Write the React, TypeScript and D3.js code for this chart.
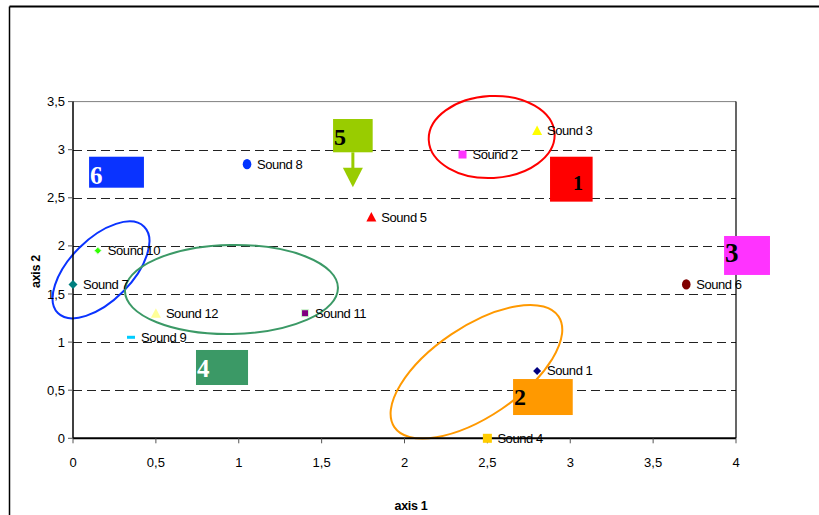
import React from "react";
import * as d3 from "d3";

const soundNames = ["Sound 1","Sound 2","Sound 3","Sound 4","Sound 5","Sound 6","Sound 7","Sound 8","Sound 9","Sound 10","Sound 11","Sound 12"];
const axis1Values = [2.8, 2.35, 2.8, 2.5, 1.8, 3.7, 0.0, 1.05, 0.35, 0.15, 1.4, 0.5];
const axis2Values = [0.7, 2.95, 3.2, 0.0, 2.3, 1.6, 1.6, 2.85, 1.05, 1.95, 1.3, 1.3];
const markerShapes = ["diamond","square","triangle","square","triangle","circle","diamond","circle","dash","diamond","square","triangle"];
const markerColors = ["#000080","#FF33FF","#FFFF00","#FFCC00","#FF0000","#800000","#008080","#0033FF","#00CCFF","#33FF00","#800080","#FFFF99"];

const xTicks = [0, 0.5, 1, 1.5, 2, 2.5, 3, 3.5, 4];
const yTicks = [0, 0.5, 1, 1.5, 2, 2.5, 3, 3.5];

// annotation groups (data units)
const groupLabels = ["6", "5", "1", "3", "4", "2"];
const groupColors = ["#0A33FF", "#99CC00", "#FF0000", "#FF33FF", "#3B9966", "#FF9900"];
const groupTextColors = ["#FFFFFF", "#000000", "#000000", "#000000", "#FFFFFF", "#000000"];
const groupX0 = [0.097, 1.569, 2.878, 3.928, 0.742, 2.655];
const groupX1 = [0.428, 1.808, 3.135, 4.205, 1.056, 3.015];
const groupY0 = [2.605, 2.973, 2.46, 1.698, 0.554, 0.242];
const groupY1 = [2.927, 3.319, 2.927, 2.103, 0.918, 0.616];
const groupFont = [25, 24, 20, 27, 25, 24];

const ellipseColors = ["#FF0000", "#0A33FF", "#3B9966", "#FF9900"];
const ellipseCX = [2.526, 0.169, 0.956, 2.434];
const ellipseCY = [3.132, 1.751, 1.547, 0.692];
const ellipseRX = [63, 61, 106.5, 99];
const ellipseRY = [41, 31, 44.5, 45];
const ellipseRot = [-3, -45, -1, -34];

const W = 819, H = 515;
const left = 73, right = 736, top = 101.6, bottom = 438.3;

export default function App() {
  const x = d3.scaleLinear().domain([0, 4]).range([left, right]);
  const y = d3.scaleLinear().domain([0, 3.5]).range([bottom, top]);
  const font = "'Liberation Sans', Arial, sans-serif";
  const serif = "'Liberation Serif', 'Times New Roman', serif";

  const marker = (i: number) => {
    const cx = x(axis1Values[i]);
    const cy = y(axis2Values[i]);
    const c = markerColors[i];
    const s = markerShapes[i];
    if (s === "diamond") {
      const r = i === 9 ? 3.5 : i === 6 ? 4.5 : 4;
      return <path d={`M${cx},${cy - r}L${cx + r},${cy}L${cx},${cy + r}L${cx - r},${cy}Z`} fill={c} stroke={i === 9 ? "#CCFFCC" : "none"} strokeWidth={1} />;
    }
    if (s === "square") {
      const r = i === 3 ? 4.5 : i === 10 ? 3.5 : 4;
      return <rect x={cx - r} y={cy - r} width={2 * r} height={2 * r} fill={c} stroke={i === 10 ? "#CCFFCC" : "none"} strokeWidth={1} />;
    }
    if (s === "triangle") {
      const r = 5;
      return <path d={`M${cx},${cy - r}L${cx + r},${cy + r - 0.5}L${cx - r},${cy + r - 0.5}Z`} fill={c} />;
    }
    if (s === "circle") {
      return <ellipse cx={cx} cy={cy} rx={4.3} ry={5.2} fill={c} />;
    }
    return <rect x={cx - 4} y={cy - 1.5} width={8} height={3} fill={c} />;
  };

  return (
    <svg width={W} height={H} style={{ position: "absolute", left: 0, top: 0, background: "#fff" }}>
      {/* outer frame */}
      <line x1={9.5} y1={6.5} x2={W} y2={6.5} stroke="#000" strokeWidth={2} />
      <line x1={9.5} y1={6.5} x2={9.5} y2={H} stroke="#000" strokeWidth={1.5} />

      {/* gridlines */}
      {yTicks.filter(t => t > 0 && t < 3.5).map(t => (
        <line key={"g" + t} x1={left} x2={right} y1={Math.round(y(t)) + 0.5} y2={Math.round(y(t)) + 0.5} stroke="#222" strokeWidth={1} strokeDasharray="9,5" />
      ))}
      <line x1={left} x2={right} y1={top} y2={top} stroke="#808080" strokeWidth={1} />
      <line x1={right} x2={right} y1={top} y2={bottom} stroke="#000" strokeWidth={1.2} />

      {/* ellipses */}
      {ellipseColors.map((c, i) => (
        <ellipse key={"e" + i} cx={0} cy={0} rx={ellipseRX[i]} ry={ellipseRY[i]} fill="none" stroke={c} strokeWidth={2}
          transform={`translate(${x(ellipseCX[i])},${y(ellipseCY[i])}) rotate(${ellipseRot[i]})`} />
      ))}

      {/* axes */}
      <line x1={left} x2={left} y1={top} y2={bottom} stroke="#000" strokeWidth={1.5} />
      <line x1={left} x2={right} y1={bottom} y2={bottom} stroke="#000" strokeWidth={2} />
      {yTicks.map(t => (
        <g key={"yt" + t}>
          <line x1={left - 5} x2={left} y1={y(t)} y2={y(t)} stroke="#555" strokeWidth={1} />
          <text x={65} y={y(t) + 4.5} textAnchor="end" fontFamily={font} fontSize={13} fill="#000">{String(t).replace(".", ",")}</text>
        </g>
      ))}
      {xTicks.map(t => (
        <g key={"xt" + t}>
          <line x1={x(t)} x2={x(t)} y1={bottom} y2={bottom + 5} stroke="#555" strokeWidth={1} />
          <text x={x(t)} y={467} textAnchor="middle" fontFamily={font} fontSize={13} fill="#000">{String(t).replace(".", ",")}</text>
        </g>
      ))}
      <text x={411} y={510} textAnchor="middle" fontFamily={font} fontSize={12.5} fontWeight="bold" letterSpacing={-0.3}>axis 1</text>
      <text transform={`translate(39.5,271.5) rotate(-90)`} textAnchor="middle" fontFamily={font} fontSize={12.5} fontWeight="bold" letterSpacing={-0.3}>axis 2</text>

      {/* group boxes */}
      {groupLabels.map((g, i) => {
        const bx0 = x(groupX0[i]), bx1 = x(groupX1[i]);
        const by0 = y(groupY1[i]), by1 = y(groupY0[i]);
        const tx = g === "1" ? bx0 + 23 : bx0 + 1;
        const ty = g === "1" ? by1 - 11.5 : g === "3" ? by0 + 26 : by0 + 26.5;
        return (
          <g key={"b" + i}>
            <rect x={bx0} y={by0} width={bx1 - bx0} height={by1 - by0} fill={groupColors[i]} />
            <text x={tx} y={g === "6" ? by0 + 27 : g === "5" ? by0 + 26 : g === "4" ? by0 + 27 : g === "2" ? by0 + 25.5 : ty}
              fontFamily={serif} fontWeight="bold" fontSize={groupFont[i]} fill={groupTextColors[i]}>{g}</text>
            {g === "5" && (
              <g>
                <line x1={(bx0 + bx1) / 2} x2={(bx0 + bx1) / 2} y1={by1} y2={by1 + 16} stroke={groupColors[i]} strokeWidth={3} />
                <path d={`M${(bx0 + bx1) / 2 - 10},${by1 + 15.5}L${(bx0 + bx1) / 2 + 10},${by1 + 15.5}L${(bx0 + bx1) / 2},${by1 + 35}Z`} fill={groupColors[i]} />
              </g>
            )}
          </g>
        );
      })}

      {/* points */}
      {soundNames.map((n, i) => (
        <g key={n}>
          {marker(i)}
          <text x={x(axis1Values[i]) + 10} y={y(axis2Values[i]) + 4.5} fontFamily={font} fontSize={13} letterSpacing={-0.45} fill="#000">{n}</text>
        </g>
      ))}
    </svg>
  );
}
